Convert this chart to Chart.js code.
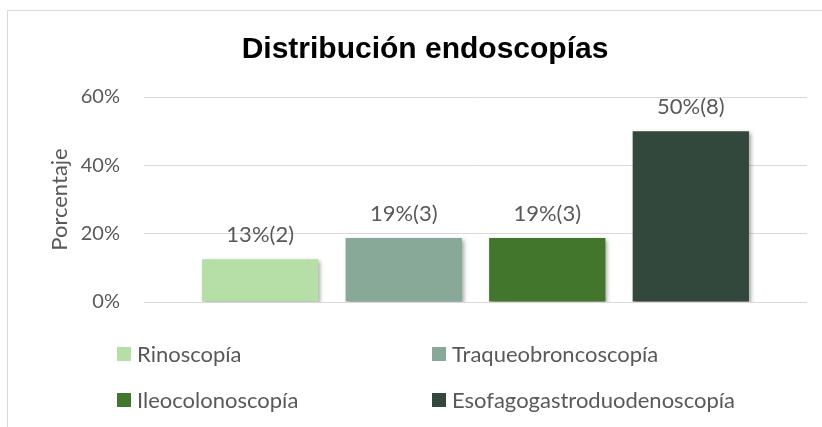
<!DOCTYPE html>
<html>
<head>
<meta charset="utf-8">
<script src="https://cdn.jsdelivr.net/npm/chart.js@4"></script>
<style>
  html, body { margin: 0; padding: 0; background: #fff; overflow: hidden; }
  #frame { position: absolute; left: 7px; top: 10px; width: 900px; height: 500px; border: 1px solid #d9d9d9; }
  #wrap { position: absolute; left: 0; top: 0; width: 822px; height: 427px; }
</style>
</head>
<body>
<div id="frame"></div>
<div id="wrap"><canvas id="myChart" width="822" height="427"></canvas></div>
<script>
const categories = ['Rinoscopía', 'Traqueobroncoscopía', 'Ileocolonoscopía', 'Esofagogastroduodenoscopía'];
const percentages = [12.5, 18.75, 18.75, 50];
const counts = [2, 3, 3, 8];
const yTicks = [0, 20, 40, 60];
const colors = ['#b5dfa7', '#88a898', '#42762c', '#33483c'];

const textColor = '#595959';
const baseFont = 'Lato';

// soft drop shadow under the bars, like the office chart
const barShadow = {
  id: 'barShadow',
  beforeDatasetsDraw(chart) {
    const ctx = chart.ctx;
    ctx.save();
    ctx.shadowColor = 'rgba(0,0,0,0.35)';
    ctx.shadowBlur = 4;
    ctx.shadowOffsetX = 2;
    ctx.shadowOffsetY = 2;
  },
  afterDatasetsDraw(chart) {
    chart.ctx.restore();
  }
};

// "13%(2)" labels on top of each bar
const valueLabels = {
  id: 'valueLabels',
  afterDatasetsDraw(chart) {
    const ctx = chart.ctx;
    ctx.save();
    ctx.font = '22px ' + baseFont;
    ctx.fillStyle = textColor;
    ctx.textAlign = 'center';
    ctx.textBaseline = 'middle';
    chart.data.datasets.forEach((ds, i) => {
      const bar = chart.getDatasetMeta(i).data[0];
      const txt = Math.round(percentages[i]) + '%(' + counts[i] + ')';
      ctx.fillText(txt, bar.x, bar.y - 24);
    });
    ctx.restore();
  }
};

// legend laid out in two columns
const legendGrid = {
  id: 'legendGrid',
  afterDraw(chart) {
    const { ctx, chartArea } = chart;
    ctx.save();
    ctx.font = '22px ' + baseFont;
    ctx.textBaseline = 'middle';
    chart.data.datasets.forEach((ds, i) => {
      const x = chartArea.left - 27 + (i % 2) * 315;
      const y = chartArea.bottom + 52 + Math.floor(i / 2) * 46;
      ctx.fillStyle = ds.backgroundColor;
      ctx.fillRect(x, y - 7, 14, 14);
      ctx.fillStyle = textColor;
      ctx.fillText(ds.label, x + 20, y + 1);
    });
    ctx.restore();
  }
};

const ctx = document.getElementById('myChart');

new Chart(ctx, {
  type: 'bar',
  data: {
    labels: [''],
    datasets: categories.map((name, i) => ({
      label: name,
      data: [percentages[i]],
      backgroundColor: colors[i],
      borderWidth: 0,
      barPercentage: 0.81,
      categoryPercentage: 0.866
    }))
  },
  options: {
    responsive: false,
    animation: false,
    layout: { padding: { top: 32, left: 43, right: 15, bottom: 125 } },
    plugins: {
      legend: { display: false },
      tooltip: { enabled: false },
      title: {
        display: true,
        text: 'Distribución endoscopías',
        color: '#000',
        font: { family: 'Liberation Sans', size: 30, weight: 'bold' },
        padding: { top: 0, bottom: 29 }
      }
    },
    scales: {
      x: { display: false },
      y: {
        min: 0,
        max: 60,
        afterBuildTicks: (scale) => { scale.ticks = yTicks.map(v => ({ value: v })); },
        afterFit: (scale) => { scale.width = 101; },
        grid: { color: '#d9d9d9', lineWidth: 1, drawTicks: false },
        border: { display: false },
        ticks: {
          padding: 24,
          color: textColor,
          font: { family: baseFont, size: 20 },
          callback: (v) => v + '%'
        },
        title: {
          display: true,
          text: 'Porcentaje',
          color: textColor,
          font: { family: baseFont, size: 22 },
          padding: { top: 4, bottom: 4 }
        }
      }
    }
  },
  plugins: [barShadow, valueLabels, legendGrid]
});
</script>
</body>
</html>
